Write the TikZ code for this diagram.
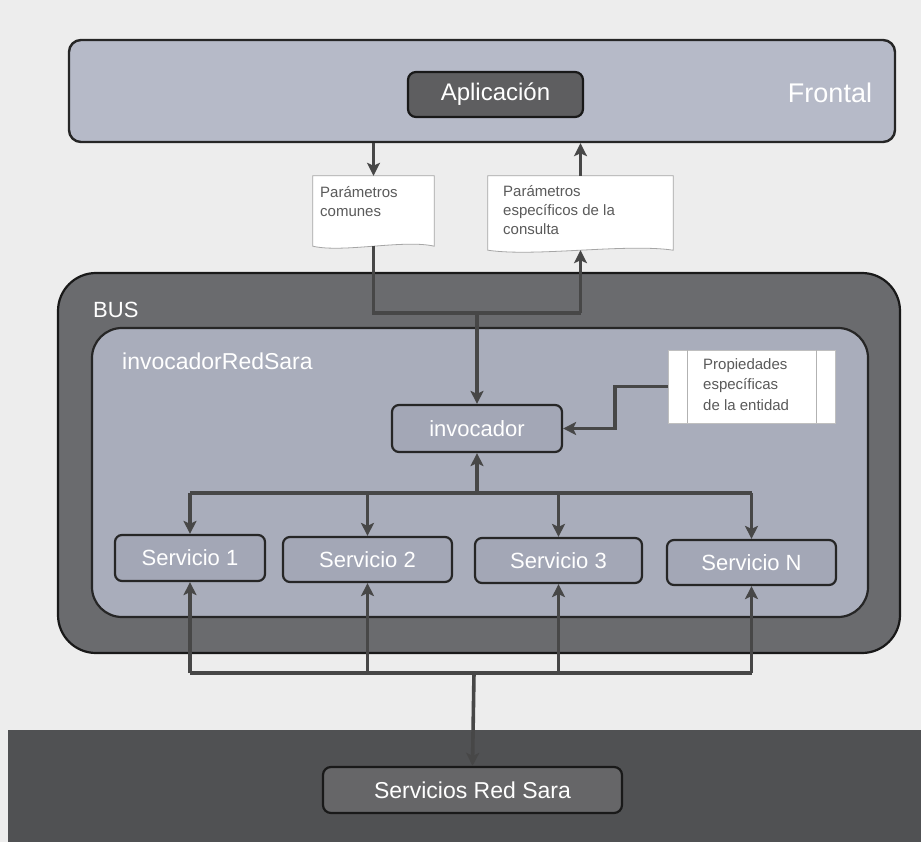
\documentclass[tikz,border=0pt]{standalone}
\usepackage{fontspec}
\setmainfont{Liberation Sans}
\usetikzlibrary{arrows.meta,calc}
\definecolor{pagebg}{HTML}{EDEDED}
\definecolor{bandc}{HTML}{505153}
\definecolor{frontfill}{HTML}{B6BAC8}
\definecolor{darkbox}{HTML}{5E5E60}
\definecolor{busfill}{HTML}{6A6B6E}
\definecolor{irsfill}{HTML}{A9ADBB}
\definecolor{boxfill}{HTML}{A3A7B6}
\definecolor{linec}{HTML}{474747}
\definecolor{doctext}{HTML}{5A5A5A}
\begin{document}
\begin{tikzpicture}[x=1pt,y=-1pt,
  lbl/.style={font=\fontsize{22}{26}\selectfont, text=white},
  box/.style={draw=black!85, line width=2.2pt, rounded corners=7pt, fill=boxfill, lbl, inner sep=0pt},
  darkbox/.style={draw=black!90, line width=2.2pt, rounded corners=8pt, fill=darkbox, lbl, inner sep=0pt},
  doctxt/.style={font=\fontsize{15}{19}\selectfont, text=doctext, align=left, anchor=north west, inner sep=0pt},
  docshape/.style={draw=gray!70, line width=0.8pt, fill=white},
  conn/.style={draw=linec, line width=3.6pt},
  arr/.style={conn, -{Stealth[length=13pt,width=13pt,inset=3pt]}},
]
\useasboundingbox (0,0) rectangle (921,842);
\fill[pagebg] (0,0) rectangle (921,842);
\fill[bandc] (8,730) rectangle (921,842);

% Frontal
\node[draw=black!85, line width=2.4pt, rounded corners=12pt, fill=frontfill,
      minimum width=826pt, minimum height=102pt, inner sep=0pt] (frontal) at (482,91) {};
\node[font=\fontsize{27}{30}\selectfont, text=white, anchor=base] (frontaltxt) at (830,103) {Frontal};
\node[darkbox, minimum width=175pt, minimum height=45pt, font=\fontsize{24}{28}\selectfont] (aplic) at (495.5,94.5) {Aplicación};

% Documents
\node[minimum width=121pt, minimum height=70pt, inner sep=0pt] (doc1) at (373.5,211) {};
\node[minimum width=185pt, minimum height=74pt, inner sep=0pt] (doc2) at (580.5,213) {};
\foreach \d in {doc1,doc2}{
  \draw[docshape] (\d.south west) -- (\d.north west) -- (\d.north east) -- (\d.south east)
    .. controls ($(\d.south east)!0.25!(\d.south west)+(0,-7)$) and ($(\d.south east)!0.75!(\d.south west)+(0,7)$) .. (\d.south west) -- cycle;
}
\node[doctxt] (doc1t) at (320,186) {Parámetros\\comunes};
\node[doctxt] (doc2t) at (503,185) {Parámetros\\específicos de la\\consulta};

% BUS
\node[draw=black!90, line width=2.2pt, rounded corners=38pt, fill=busfill,
      minimum width=842pt, minimum height=380pt, inner sep=0pt] (bus) at (479,463) {};
\node[lbl, anchor=base west, inner sep=0pt] (bustxt) at (93,317) {BUS};
\node[draw=black!85, line width=2.2pt, rounded corners=30pt, fill=irsfill,
      minimum width=776pt, minimum height=289pt, inner sep=0pt] (irs) at (480,472.5) {};
\node[lbl, font=\fontsize{23}{26}\selectfont, anchor=base west, inner sep=0pt] (irstxt) at (122,370) {invocadorRedSara};

% Propiedades
\node[draw=gray!50, line width=0.6pt, fill=white, minimum width=167pt, minimum height=73pt, inner sep=0pt] (prop) at (751.5,386.5) {};
\draw[gray!60, line width=0.8pt] ($(prop.north west)+(20,0)$) -- ($(prop.south west)+(20,0)$);
\draw[gray!60, line width=0.8pt] ($(prop.north east)+(-19,0)$) -- ($(prop.south east)+(-19,0)$);
\node[doctxt, font=\fontsize{15}{20.5}\selectfont] (propt) at (703,358) {Propiedades\\específicas\\de la entidad};

% invocador and services
\node[box, minimum width=170pt, minimum height=47pt] (invoc) at (477,428.5) {invocador};
\node[box, minimum width=150pt, minimum height=46pt] (s1) at (190,558) {Servicio 1};
\node[box, minimum width=169pt, minimum height=45pt] (s2) at (367.5,559.5) {Servicio 2};
\node[box, minimum width=167pt, minimum height=45pt] (s3) at (558.5,560.5) {Servicio 3};
\node[box, minimum width=169pt, minimum height=45pt] (sN) at (751.5,562.5) {Servicio N};

\node[darkbox, minimum width=299pt, minimum height=46pt, font=\fontsize{23}{27}\selectfont, fill=darkbox!95!white] (srs) at (472.5,790) {Servicios Red Sara};

% connectors
\coordinate (j1) at (477,313);
\coordinate (j2) at (477,493);
\coordinate (j3) at (474,673);
\draw[arr] (frontal.south -| doc1.north) -- (doc1.north);
\draw[arr] (doc2.north) -- (frontal.south -| doc2.north);
\draw[conn] (doc1.south) |- (doc2.south |- j1);
\draw[arr] (doc2.south |- j1) -- (doc2.south);
\draw[arr] (j1) -- (invoc.north);
\draw[arr] (prop.west) -- ++(-53,0) |- (invoc.east);
\draw[conn] (s1.north |- j2) -- (sN.north |- j2);
\draw[arr] (j2) -- (invoc.south);
\foreach \s in {s1,s2,s3,sN}{
  \draw[arr] (\s.north |- j2) -- (\s.north);
  \draw[arr] (\s.south |- j3) -- (\s.south);
}
\draw[conn] (s1.south |- j3) -- (sN.south |- j3);
\draw[arr] (j3) -- (srs.north);
\end{tikzpicture}
\end{document}
